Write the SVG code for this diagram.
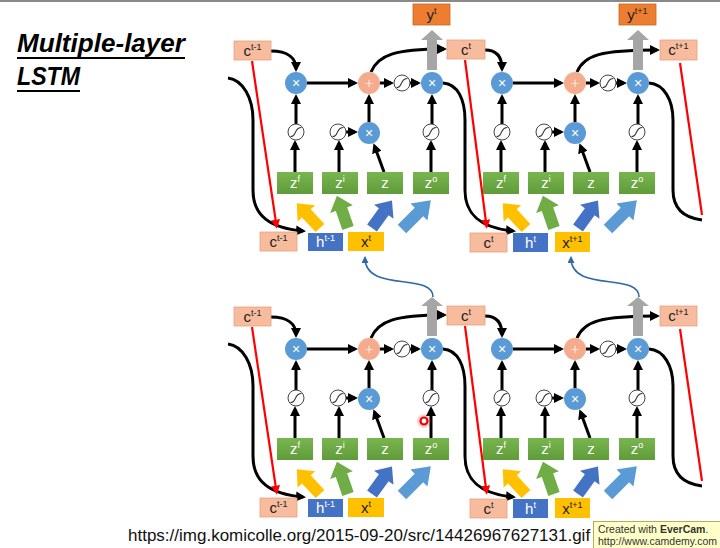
<svg xmlns="http://www.w3.org/2000/svg" xmlns:xlink="http://www.w3.org/1999/xlink" width="720" height="548" viewBox="0 0 720 548">
<style>
text{font-family:"Liberation Sans","DejaVu Sans",sans-serif}
.blk{fill:none;stroke:#000;stroke-width:3}
.red{fill:none;stroke:#f00;stroke-width:2.2}
.blu{fill:none;stroke:#2f6aa5;stroke-width:1.6}
.bc{fill:#5b9bd5}
.pc{fill:#f4ac8c}
.sg{fill:#fff;stroke:#444;stroke-width:1}
.sgl{fill:none;stroke:#333;stroke-width:1.1}
.cb{fill:#f7bb9d;stroke:#e8a07e;stroke-width:0.8}
.yb{fill:#ed7d31;stroke:#c9661f;stroke-width:0.8}
.hb{fill:#4472c4}
.xb{fill:#ffc000}
.zb{fill:url(#zg)}
.lb{font-size:15px;fill:#222;text-anchor:middle}
.lw{font-size:15px;fill:#fff;text-anchor:middle}
.op{font-size:14px;fill:#fff;text-anchor:middle}
.ga{fill:#a6a6a6}
</style>
<defs>
<linearGradient id="zg" x1="0" y1="0" x2="0" y2="1"><stop offset="0" stop-color="#79b54f"/><stop offset="1" stop-color="#5f9c3a"/></linearGradient>
<marker id="ah" viewBox="0 0 10 10" refX="7" refY="5" markerWidth="10" markerHeight="10" markerUnits="userSpaceOnUse" orient="auto"><path d="M0,0 L10,5 L0,10 z" fill="#000"/></marker>
<marker id="ahr" viewBox="0 0 10 10" refX="7" refY="5" markerWidth="9" markerHeight="9" markerUnits="userSpaceOnUse" orient="auto"><path d="M0,0 L10,5 L0,10 z" fill="#f00"/></marker>
<marker id="ahb" viewBox="0 0 10 10" refX="7" refY="5" markerWidth="7" markerHeight="7" markerUnits="userSpaceOnUse" orient="auto"><path d="M0,0 L10,5 L0,10 z" fill="#2f6aa5"/></marker>
<path id="ba" d="M-6,0 L-6,-20 L-12,-20 L0,-34 L12,-20 L6,-20 L6,0 Z"/>
<path id="sgp" d="M-5.5,4.5 C-2,4.5 -1.5,2 -0.5,0 C0.5,-2 1.5,-4.5 5.5,-4.5"/>
<g id="cellconn">
<path class="blk" marker-end="url(#ah)" d="M307,83 L355,83"/>
<path class="blk" marker-end="url(#ah)" d="M380,83 L391,83"/>
<path class="blk" marker-end="url(#ah)" d="M410,83 L418,83"/>
<path class="blk" marker-end="url(#ah)" d="M296,124 L296,97"/>
<path class="blk" marker-end="url(#ah)" d="M369,122 L369,97"/>
<path class="blk" marker-end="url(#ah)" d="M432,124 L432,97"/>
<path class="blk" marker-end="url(#ah)" d="M346,132 L355,132"/>
<path class="blk" marker-end="url(#ah)" d="M295,172 L295,143"/>
<path class="blk" marker-end="url(#ah)" d="M339,172 L339,143"/>
<path class="blk" marker-end="url(#ah)" d="M384,172 L374.5,146"/>
<path class="blk" marker-end="url(#ah)" d="M431,172 L431,143"/>
<use href="#ba" fill="#ffc000" transform="translate(320,228) rotate(-43)"/>
<use href="#ba" fill="#70ad47" transform="translate(348,228) rotate(-19)"/>
<use href="#ba" fill="#4472c4" transform="translate(372,228) rotate(36)"/>
<use href="#ba" fill="#5b9bd5" transform="translate(402,229) rotate(45) scale(1,1.2)"/>
</g>
</defs>
<rect x="0" y="0" width="720" height="548" fill="#fff"/>
<rect x="0" y="0" width="720" height="2" fill="#8a8a8a"/>

<g id="title">
<text x="17" y="52" font-size="26" font-weight="bold" font-style="italic" fill="#000" textLength="168" lengthAdjust="spacingAndGlyphs">Multiple-layer</text>
<line x1="17" y1="58" x2="185" y2="58" stroke="#000" stroke-width="2"/>
<text x="17" y="85" font-size="26" font-weight="bold" font-style="italic" fill="#000" textLength="63" lengthAdjust="spacingAndGlyphs">LSTM</text>
<line x1="17" y1="91" x2="80" y2="91" stroke="#000" stroke-width="2"/>
</g>

<!-- connectors -->
<g id="connectors">
<use href="#cellconn"/>
<use href="#cellconn" transform="translate(206,0)"/>
<use href="#cellconn" transform="translate(0,266)"/>
<use href="#cellconn" transform="translate(206,266)"/>
<g id="conn-top">
<path class="blk" marker-end="url(#ah)" d="M271,51 C288,51 296,58 296,69"/>
<path class="blk" marker-end="url(#ah)" d="M371,72 C378,55 395,49 444,49"/>
<path class="blk" marker-end="url(#ah)" d="M485,50 C497,50 502,57 502,69"/>
<path class="blk" marker-end="url(#ah)" d="M577,72 C584,55 601,50 657,50"/>
<path class="blk" marker-end="url(#ah)" d="M228,78 C243,80 253,98 253,120 L253,190 C253,216 270,228 303,231"/>
<path class="blk" marker-end="url(#ah)" d="M443,83 C458,84 465,100 465,120 L465,190 C465,216 482,228 513,231"/>
<path class="blk" d="M649,83 C664,84 673,100 673,120 L673,190 C673,210 686,218 702,220"/>
<path class="red" marker-end="url(#ahr)" d="M252,61 L276.5,226"/>
<path class="red" marker-end="url(#ahr)" d="M465,60 L486.5,226"/>
<path class="red" d="M680,63 L702,215"/>
</g>
<g id="conn-bottom" transform="translate(0,266)">
<path class="blk" marker-end="url(#ah)" d="M271,51 C288,51 296,58 296,69"/>
<path class="blk" marker-end="url(#ah)" d="M371,72 C378,55 395,49 444,49"/>
<path class="blk" marker-end="url(#ah)" d="M485,50 C497,50 502,57 502,69"/>
<path class="blk" marker-end="url(#ah)" d="M577,72 C584,55 601,50 657,50"/>
<path class="blk" marker-end="url(#ah)" d="M228,78 C243,80 253,98 253,120 L253,190 C253,216 270,228 303,231"/>
<path class="blk" marker-end="url(#ah)" d="M443,83 C458,84 465,100 465,120 L465,190 C465,216 482,228 513,231"/>
<path class="blk" d="M649,83 C664,84 673,100 673,120 L673,190 C673,210 686,218 702,220"/>
<path class="red" marker-end="url(#ahr)" d="M252,61 L276.5,226"/>
<path class="red" marker-end="url(#ahr)" d="M465,60 L486.5,226"/>
<path class="red" d="M680,63 L702,215"/>
</g>
<path class="blu" marker-end="url(#ahb)" d="M433,297 C433,272 365,293 365,258"/>
<path class="blu" marker-end="url(#ahb)" d="M639,297 C639,272 571,293 571,258"/>
</g>

<!-- nodes: top layer -->
<g id="top-c-prev"><rect class="cb" x="234" y="41" width="37" height="19"/><text class="lb" x="252.5" y="56">c<tspan font-size="9" dy="-6">t-1</tspan></text></g>
<g id="top-c-t"><rect class="cb" x="447" y="40" width="38" height="19"/><text class="lb" x="466" y="55">c<tspan font-size="9" dy="-6">t</tspan></text></g>
<g id="top-c-next"><rect class="cb" x="660" y="40" width="37" height="20"/><text class="lb" x="678.5" y="55">c<tspan font-size="9" dy="-6">t+1</tspan></text></g>
<g id="y-t"><rect class="yb" x="413" y="4" width="37" height="21"/><text class="lb" x="431.5" y="20">y<tspan font-size="9" dy="-6">t</tspan></text></g>
<g id="y-next"><rect class="yb" x="619" y="4" width="37" height="21"/><text class="lb" x="637.5" y="20">y<tspan font-size="9" dy="-6">t+1</tspan></text></g>

<g id="top-A" transform="translate(0,0)">
<g id="A1-out-arrow"><path class="ga" d="M427,70 L427,40 L421,40 L432,30 L443,40 L437,40 L437,70 Z"/></g>
<g id="A1-fx"><circle class="bc" cx="296" cy="83" r="11"/><text class="op" x="296" y="88">×</text></g>
<g id="A1-plus"><circle class="pc" cx="369" cy="83" r="11"/><text class="op" x="369" y="88" fill-opacity="0.7">+</text></g>
<g id="A1-tanh"><circle class="sg" cx="402" cy="83" r="8"/><use href="#sgp" class="sgl" transform="translate(402,83)"/></g>
<g id="A1-ox"><circle class="bc" cx="432" cy="83" r="11"/><text class="op" x="432" y="88">×</text></g>
<g id="A1-sf"><circle class="sg" cx="296" cy="132" r="8"/><use href="#sgp" class="sgl" transform="translate(296,132)"/></g>
<g id="A1-si"><circle class="sg" cx="338" cy="132" r="8"/><use href="#sgp" class="sgl" transform="translate(338,132)"/></g>
<g id="A1-ix"><circle class="bc" cx="369" cy="133" r="11"/><text class="op" x="369" y="138">×</text></g>
<g id="A1-so"><circle class="sg" cx="431" cy="132" r="8"/><use href="#sgp" class="sgl" transform="translate(431,132)"/></g>
<g id="A1-zf"><rect class="zb" x="277" y="172" width="36" height="22"/><text class="lw" x="295" y="188">z<tspan font-size="9" dy="-6">f</tspan></text></g>
<g id="A1-zi"><rect class="zb" x="322" y="172" width="36" height="22"/><text class="lw" x="340" y="188">z<tspan font-size="9" dy="-6">i</tspan></text></g>
<g id="A1-z"><rect class="zb" x="367" y="172" width="36" height="22"/><text class="lw" x="385" y="188">z</text></g>
<g id="A1-zo"><rect class="zb" x="413" y="172" width="36" height="22"/><text class="lw" x="431" y="188">z<tspan font-size="9" dy="-6">o</tspan></text></g>
</g>

<g id="top-B" transform="translate(206,0)">
<g id="B1-out-arrow"><path class="ga" d="M427,70 L427,40 L421,40 L432,30 L443,40 L437,40 L437,70 Z"/></g>
<g id="B1-fx"><circle class="bc" cx="296" cy="83" r="11"/><text class="op" x="296" y="88">×</text></g>
<g id="B1-plus"><circle class="pc" cx="369" cy="83" r="11"/><text class="op" x="369" y="88" fill-opacity="0.7">+</text></g>
<g id="B1-tanh"><circle class="sg" cx="402" cy="83" r="8"/><use href="#sgp" class="sgl" transform="translate(402,83)"/></g>
<g id="B1-ox"><circle class="bc" cx="432" cy="83" r="11"/><text class="op" x="432" y="88">×</text></g>
<g id="B1-sf"><circle class="sg" cx="296" cy="132" r="8"/><use href="#sgp" class="sgl" transform="translate(296,132)"/></g>
<g id="B1-si"><circle class="sg" cx="338" cy="132" r="8"/><use href="#sgp" class="sgl" transform="translate(338,132)"/></g>
<g id="B1-ix"><circle class="bc" cx="369" cy="133" r="11"/><text class="op" x="369" y="138">×</text></g>
<g id="B1-so"><circle class="sg" cx="431" cy="132" r="8"/><use href="#sgp" class="sgl" transform="translate(431,132)"/></g>
<g id="B1-zf"><rect class="zb" x="277" y="172" width="36" height="22"/><text class="lw" x="295" y="188">z<tspan font-size="9" dy="-6">f</tspan></text></g>
<g id="B1-zi"><rect class="zb" x="322" y="172" width="36" height="22"/><text class="lw" x="340" y="188">z<tspan font-size="9" dy="-6">i</tspan></text></g>
<g id="B1-z"><rect class="zb" x="367" y="172" width="36" height="22"/><text class="lw" x="385" y="188">z</text></g>
<g id="B1-zo"><rect class="zb" x="413" y="172" width="36" height="22"/><text class="lw" x="431" y="188">z<tspan font-size="9" dy="-6">o</tspan></text></g>
</g>

<g id="top-in-c-prev"><rect class="cb" x="260" y="232" width="37" height="19"/><text class="lb" x="278.5" y="247">c<tspan font-size="9" dy="-6">t-1</tspan></text></g>
<g id="top-in-h-prev"><rect class="hb" x="308" y="233" width="35" height="18"/><text class="lw" x="325.5" y="247">h<tspan font-size="9" dy="-6">t-1</tspan></text></g>
<g id="top-in-x-t"><rect class="xb" x="348" y="232" width="36" height="19"/><text class="lb" x="366" y="247">x<tspan font-size="9" dy="-6">t</tspan></text></g>
<g id="top-in-c-t"><rect class="cb" x="470" y="233" width="37" height="19"/><text class="lb" x="488.5" y="248">c<tspan font-size="9" dy="-6">t</tspan></text></g>
<g id="top-in-h-t"><rect class="hb" x="513" y="233" width="35" height="19"/><text class="lw" x="530.5" y="248">h<tspan font-size="9" dy="-6">t</tspan></text></g>
<g id="top-in-x-next"><rect class="xb" x="555" y="232" width="35" height="20"/><text class="lb" x="572.5" y="248">x<tspan font-size="9" dy="-6">t+1</tspan></text></g>

<!-- nodes: bottom layer -->
<g id="bot-c-prev"><rect class="cb" x="234" y="307" width="37" height="19"/><text class="lb" x="252.5" y="322">c<tspan font-size="9" dy="-6">t-1</tspan></text></g>
<g id="bot-c-t"><rect class="cb" x="447" y="306" width="38" height="19"/><text class="lb" x="466" y="321">c<tspan font-size="9" dy="-6">t</tspan></text></g>
<g id="bot-c-next"><rect class="cb" x="660" y="306" width="37" height="20"/><text class="lb" x="678.5" y="321">c<tspan font-size="9" dy="-6">t+1</tspan></text></g>

<g id="bot-A" transform="translate(0,266)">
<g id="A2-out-arrow"><path class="ga" d="M427,70 L427,40 L421,40 L432,31 L443,40 L437,40 L437,70 Z"/></g>
<g id="A2-fx"><circle class="bc" cx="296" cy="83" r="11"/><text class="op" x="296" y="88">×</text></g>
<g id="A2-plus"><circle class="pc" cx="369" cy="83" r="11"/><text class="op" x="369" y="88" fill-opacity="0.7">+</text></g>
<g id="A2-tanh"><circle class="sg" cx="402" cy="83" r="8"/><use href="#sgp" class="sgl" transform="translate(402,83)"/></g>
<g id="A2-ox"><circle class="bc" cx="432" cy="83" r="11"/><text class="op" x="432" y="88">×</text></g>
<g id="A2-sf"><circle class="sg" cx="296" cy="132" r="8"/><use href="#sgp" class="sgl" transform="translate(296,132)"/></g>
<g id="A2-si"><circle class="sg" cx="338" cy="132" r="8"/><use href="#sgp" class="sgl" transform="translate(338,132)"/></g>
<g id="A2-ix"><circle class="bc" cx="369" cy="133" r="11"/><text class="op" x="369" y="138">×</text></g>
<g id="A2-so"><circle class="sg" cx="431" cy="132" r="8"/><use href="#sgp" class="sgl" transform="translate(431,132)"/></g>
<g id="A2-zf"><rect class="zb" x="277" y="172" width="36" height="22"/><text class="lw" x="295" y="188">z<tspan font-size="9" dy="-6">f</tspan></text></g>
<g id="A2-zi"><rect class="zb" x="322" y="172" width="36" height="22"/><text class="lw" x="340" y="188">z<tspan font-size="9" dy="-6">i</tspan></text></g>
<g id="A2-z"><rect class="zb" x="367" y="172" width="36" height="22"/><text class="lw" x="385" y="188">z</text></g>
<g id="A2-zo"><rect class="zb" x="413" y="172" width="36" height="22"/><text class="lw" x="431" y="188">z<tspan font-size="9" dy="-6">o</tspan></text></g>
</g>

<g id="bot-B" transform="translate(206,266)">
<g id="B2-out-arrow"><path class="ga" d="M427,70 L427,40 L421,40 L432,31 L443,40 L437,40 L437,70 Z"/></g>
<g id="B2-fx"><circle class="bc" cx="296" cy="83" r="11"/><text class="op" x="296" y="88">×</text></g>
<g id="B2-plus"><circle class="pc" cx="369" cy="83" r="11"/><text class="op" x="369" y="88" fill-opacity="0.7">+</text></g>
<g id="B2-tanh"><circle class="sg" cx="402" cy="83" r="8"/><use href="#sgp" class="sgl" transform="translate(402,83)"/></g>
<g id="B2-ox"><circle class="bc" cx="432" cy="83" r="11"/><text class="op" x="432" y="88">×</text></g>
<g id="B2-sf"><circle class="sg" cx="296" cy="132" r="8"/><use href="#sgp" class="sgl" transform="translate(296,132)"/></g>
<g id="B2-si"><circle class="sg" cx="338" cy="132" r="8"/><use href="#sgp" class="sgl" transform="translate(338,132)"/></g>
<g id="B2-ix"><circle class="bc" cx="369" cy="133" r="11"/><text class="op" x="369" y="138">×</text></g>
<g id="B2-so"><circle class="sg" cx="431" cy="132" r="8"/><use href="#sgp" class="sgl" transform="translate(431,132)"/></g>
<g id="B2-zf"><rect class="zb" x="277" y="172" width="36" height="22"/><text class="lw" x="295" y="188">z<tspan font-size="9" dy="-6">f</tspan></text></g>
<g id="B2-zi"><rect class="zb" x="322" y="172" width="36" height="22"/><text class="lw" x="340" y="188">z<tspan font-size="9" dy="-6">i</tspan></text></g>
<g id="B2-z"><rect class="zb" x="367" y="172" width="36" height="22"/><text class="lw" x="385" y="188">z</text></g>
<g id="B2-zo"><rect class="zb" x="413" y="172" width="36" height="22"/><text class="lw" x="431" y="188">z<tspan font-size="9" dy="-6">o</tspan></text></g>
</g>

<g id="bot-in-c-prev"><rect class="cb" x="260" y="498" width="37" height="19"/><text class="lb" x="278.5" y="513">c<tspan font-size="9" dy="-6">t-1</tspan></text></g>
<g id="bot-in-h-prev"><rect class="hb" x="308" y="499" width="35" height="18"/><text class="lw" x="325.5" y="513">h<tspan font-size="9" dy="-6">t-1</tspan></text></g>
<g id="bot-in-x-t"><rect class="xb" x="348" y="498" width="36" height="19"/><text class="lb" x="366" y="513">x<tspan font-size="9" dy="-6">t</tspan></text></g>
<g id="bot-in-c-t"><rect class="cb" x="470" y="499" width="37" height="19"/><text class="lb" x="488.5" y="514">c<tspan font-size="9" dy="-6">t</tspan></text></g>
<g id="bot-in-h-t"><rect class="hb" x="513" y="499" width="35" height="19"/><text class="lw" x="530.5" y="514">h<tspan font-size="9" dy="-6">t</tspan></text></g>
<g id="bot-in-x-next"><rect class="xb" x="555" y="498" width="35" height="20"/><text class="lb" x="572.5" y="514">x<tspan font-size="9" dy="-6">t+1</tspan></text></g>

<g id="cursor"><circle cx="424" cy="421" r="7" fill="#f00" fill-opacity="0.18"/><circle cx="424" cy="421" r="3.5" fill="#fff" stroke="#e00" stroke-width="2.2"/></g>

<g id="source">
<text x="128" y="541" font-size="17" fill="#111">https://img.komicolle.org/2015-09-20/src/14426967627131.gif</text>
</g>
<g id="evercam">
<rect x="593.5" y="521.5" width="127" height="27" fill="#ffffc8" stroke="#b8a860" stroke-width="1"/>
<text x="598" y="533" font-size="10.5" fill="#333">Created with <tspan font-weight="bold">EverCam</tspan>.</text>
<text x="598" y="545" font-size="10" fill="#333" textLength="119" lengthAdjust="spacingAndGlyphs">http://www.camdemy.com</text>
</g>
</svg>
